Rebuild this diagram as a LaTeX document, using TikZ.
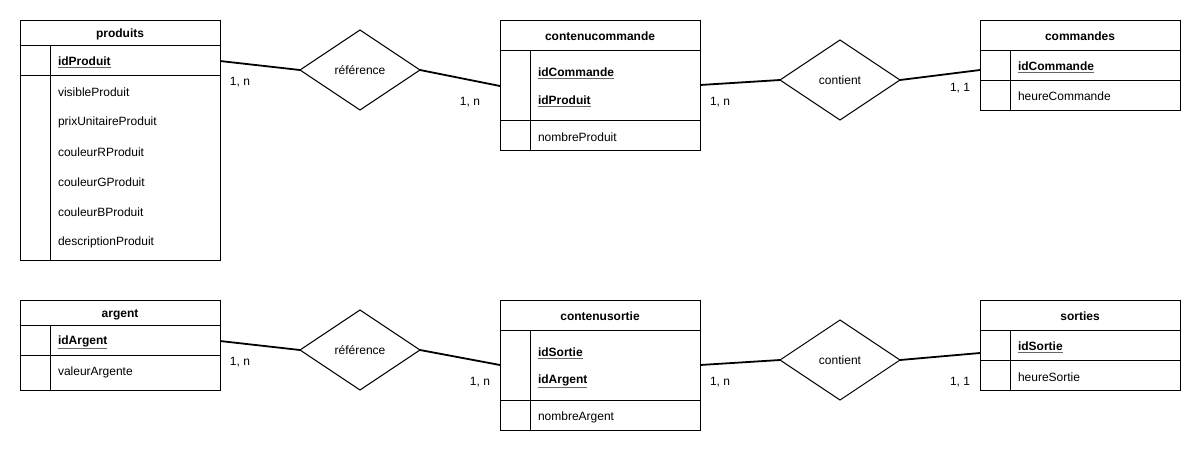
\documentclass[tikz,border=0pt]{standalone}
\usepackage{fontspec}
\setmainfont{Liberation Sans}
\usetikzlibrary{shapes.geometric}
\newcommand\keyul[1]{\leavevmode\rlap{\color{black!60}\underline{\phantom{#1}}}#1}
\begin{document}
\begin{tikzpicture}[x=1pt,y=-1pt,
  every node/.style={font=\fontsize{12pt}{14pt}\selectfont, inner sep=0pt, outer sep=0pt},
  tbl/.style={draw=black, line width=1pt, fill=white, minimum width=#1, anchor=north west},
  sep/.style={draw=black, line width=1pt},
  ttl/.style={font=\fontsize{12pt}{14pt}\selectfont\bfseries, anchor=center, yshift=-1.5pt},
  pk/.style={font=\fontsize{12pt}{14pt}\selectfont\bfseries, anchor=west, yshift=-1.5pt},
  attr/.style={anchor=west, yshift=-1.5pt},
  rel/.style={diamond, draw=black, line width=1pt, fill=white, aspect=1.5, minimum width=120pt, minimum height=80pt},
  link/.style={draw=black, line width=1.8pt},
  card/.style={anchor=center, yshift=-1pt}
]
\useasboundingbox (0,0) rectangle (1201,451);
\fill[white] (0,0) rectangle (1201,451);

% ---------- produits ----------
\node[tbl=200pt, minimum height=240pt] (produits) at (20,20) {};
\draw[sep] (20,45) -- (220,45);
\draw[sep] (20,75) -- (220,75);
\draw[sep] (50,45) -- (50,260);
\node[ttl] (produitsT) at (120,33) {produits};
\node[pk] (idProduit) at (58,61) {\keyul{idProduit}};
\node[attr] (visibleProduit) at (58,91) {visibleProduit};
\node[attr] (prixUnitaireProduit) at (58,121) {prixUnitaireProduit};
\node[attr] (couleurRProduit) at (58,151) {couleurRProduit};
\node[attr] (couleurGProduit) at (58,181) {couleurGProduit};
\node[attr] (couleurBProduit) at (58,211) {couleurBProduit};
\node[attr] (descriptionProduit) at (58,241) {descriptionProduit};

% ---------- contenucommande ----------
\node[tbl=200pt, minimum height=130pt] (contenucommande) at (500,20) {};
\draw[sep] (500,50) -- (700,50);
\draw[sep] (500,120) -- (700,120);
\draw[sep] (530,50) -- (530,150);
\node[ttl] (ccT) at (600,35) {contenucommande};
\node[pk] (ccK1) at (538,72) {\keyul{idCommande}};
\node[pk] (ccK2) at (538,100) {\keyul{idProduit}};
\node[attr] (ccA1) at (538,136) {nombreProduit};

% ---------- commandes ----------
\node[tbl=200pt, minimum height=90pt] (commandes) at (980,20) {};
\draw[sep] (980,50) -- (1180,50);
\draw[sep] (980,80) -- (1180,80);
\draw[sep] (1010,50) -- (1010,110);
\node[ttl] (cmdT) at (1080,35) {commandes};
\node[pk] (cmdK) at (1018,66) {\keyul{idCommande}};
\node[attr] (cmdA) at (1018,95) {heureCommande};

% ---------- argent ----------
\node[tbl=200pt, minimum height=90pt] (argent) at (20,300) {};
\draw[sep] (20,325) -- (220,325);
\draw[sep] (20,355) -- (220,355);
\draw[sep] (50,325) -- (50,390);
\node[ttl] (argT) at (120,313) {argent};
\node[pk] (argK) at (58,341) {\keyul{idArgent}};
\node[attr] (argA) at (58,371) {valeurArgente};

% ---------- contenusortie ----------
\node[tbl=200pt, minimum height=130pt] (contenusortie) at (500,300) {};
\draw[sep] (500,330) -- (700,330);
\draw[sep] (500,400) -- (700,400);
\draw[sep] (530,330) -- (530,430);
\node[ttl] (csT) at (600,315) {contenusortie};
\node[pk] (csK1) at (538,352) {\keyul{idSortie}};
\node[pk] (csK2) at (538,380) {\keyul{idArgent}};
\node[attr] (csA1) at (538,416) {nombreArgent};

% ---------- sorties ----------
\node[tbl=200pt, minimum height=90pt] (sorties) at (980,300) {};
\draw[sep] (980,330) -- (1180,330);
\draw[sep] (980,360) -- (1180,360);
\draw[sep] (1010,330) -- (1010,390);
\node[ttl] (sorT) at (1080,315) {sorties};
\node[pk] (sorK) at (1018,346) {\keyul{idSortie}};
\node[attr] (sorA) at (1018,376) {heureSortie};

% ---------- relations ----------
\node[rel] (ref1) at (360,70) {référence};
\node[rel] (cont1) at (840,80) {contient};
\node[rel] (ref2) at (360,350) {référence};
\node[rel] (cont2) at (840,360) {contient};

% ---------- connection points ----------
\coordinate (produitsE) at (220,61);
\coordinate (ccW) at (500,86);
\coordinate (ccE) at (700,85);
\coordinate (cmdW) at (980,70);
\coordinate (argentE) at (220,341);
\coordinate (csW) at (500,365);
\coordinate (csE) at (700,365);
\coordinate (sorW) at (980,353);

\draw[link] (produitsE) -- (ref1.west);
\draw[link] (ref1.east) -- (ccW);
\draw[link] (ccE) -- (cont1.west);
\draw[link] (cont1.east) -- (cmdW);
\draw[link] (argentE) -- (ref2.west);
\draw[link] (ref2.east) -- (csW);
\draw[link] (csE) -- (cont2.west);
\draw[link] (cont2.east) -- (sorW);

% ---------- cardinalities ----------
\node[card] (c1) at (240,81) {1, n};
\node[card] (c2) at (470,101) {1, n};
\node[card] (c3) at (720,101) {1, n};
\node[card] (c4) at (960,87) {1, 1};
\node[card] (c5) at (240,361) {1, n};
\node[card] (c6) at (480,381) {1, n};
\node[card] (c7) at (720,381) {1, n};
\node[card] (c8) at (960,381) {1, 1};
\end{tikzpicture}
\end{document}
